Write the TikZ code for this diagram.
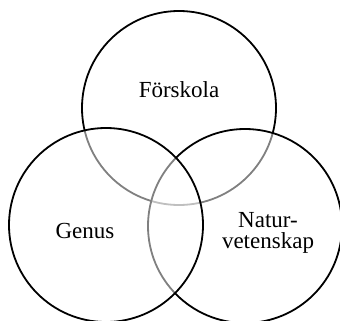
\documentclass[tikz,border=0pt]{standalone}
\usepackage{fontspec}
\setmainfont{Liberation Serif}
\usetikzlibrary{positioning}
\tikzset{
  setcircle/.style={circle, draw=black, line width=0.9pt, fill=white, fill opacity=0.5,
    minimum size=97pt, inner sep=0pt},
  setlabel/.style={align=center, text=black, font=\fontsize{11.5}{10.5}\selectfont}
}

\begin{document}
\begin{tikzpicture}[x=0.5pt,y=-0.5pt]
        \useasboundingbox (0,0) rectangle (340,320);
        % sets, drawn back to front
        \node[setcircle] (forskola) at (179,108) {};
        \node[setcircle] (natur) at (245,226) {};
        \node[setcircle] (genus) at (106,225) {};

        \node[setlabel] (forskolalbl) at (179,90) {Förskola};
        \node[setlabel] (genuslbl) at (85,231) {Genus};
        \node[setlabel] (naturlbl) at (268,233) {Natur-\\vetenskap};
      \end{tikzpicture}
\end{document}
